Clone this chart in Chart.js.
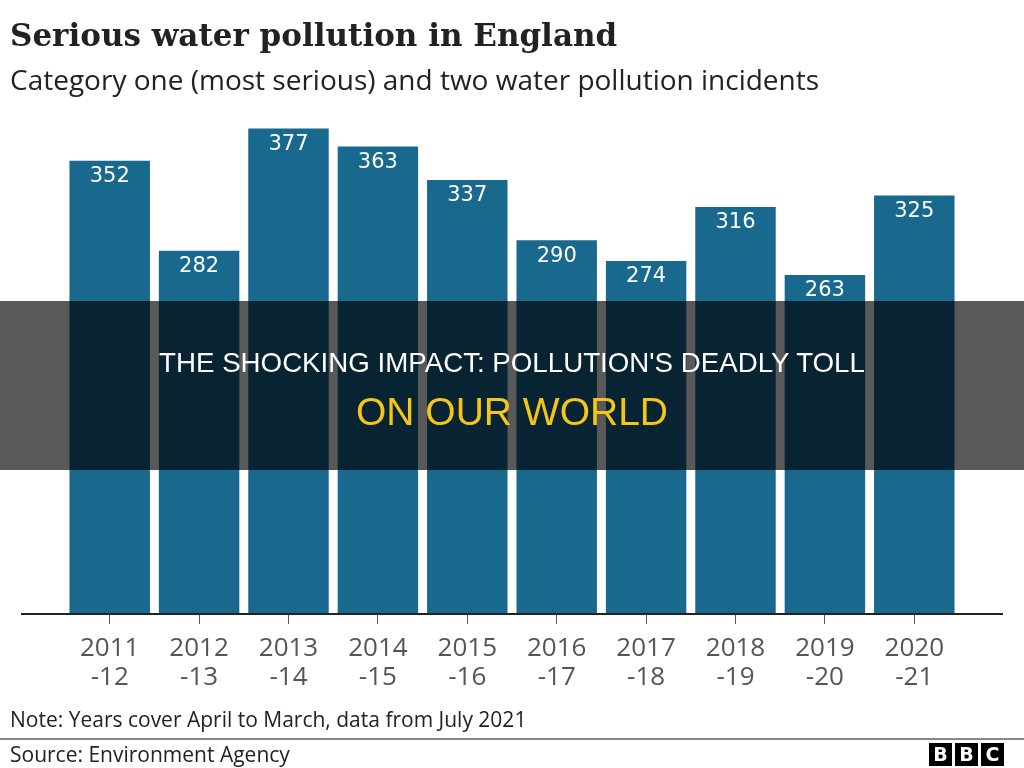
<!DOCTYPE html>
<html>
<head>
<meta charset="utf-8">
<script src="https://cdn.jsdelivr.net/npm/chart.js@4"></script>
<style>
  body { margin: 0; background: #fff; width: 1024px; height: 768px; position: relative; overflow: hidden; font-family: "Open Sans", sans-serif; }
  #chart { position: absolute; left: 0; top: 0; }
  .t { position: absolute; white-space: nowrap; color: #222; }
  #title { left: 10px; top: 17px; font: bold 31px "DejaVu Serif", serif; color: #222; }
  #sub { left: 10px; top: 60px; font: 28px "Open Sans", sans-serif; }
  #note { left: 10px; top: 705px; font: 21px "Open Sans", sans-serif; }
  #rule { position: absolute; left: 0; top: 738px; width: 1024px; height: 2px; background: #888; }
  #source { left: 10px; top: 740px; font: 21px "Open Sans", sans-serif; }
  #bbc { position: absolute; left: 929px; top: 743px; display: flex; gap: 3px; }
  #bbc span { width: 23px; height: 23px; background: #000; color: #fff; font: bold 19px "DejaVu Sans", sans-serif; text-align: center; line-height: 23px; }
  #band { position: absolute; left: 0; top: 301px; width: 1024px; height: 169px; background: rgba(0,0,0,0.65); }
  #band div { position: absolute; width: 1024px; text-align: center; white-space: nowrap; font-family: "Liberation Sans", sans-serif; line-height: 1; }
  #l1 { top: 48px; font-size: 27.7px; color: #fff; }
  #l2 { top: 91px; font-size: 39px; color: #f5c518; }
</style>
</head>
<body>
<canvas id="chart" width="1024" height="768"></canvas>
<div class="t" id="title">Serious water pollution in England</div>
<div class="t" id="sub">Category one (most serious) and two water pollution incidents</div>
<div class="t" id="note">Note: Years cover April to March, data from July 2021</div>
<div id="rule"></div>
<div class="t" id="source">Source: Environment Agency</div>
<div id="bbc"><span>B</span><span>B</span><span>C</span></div>
<div id="band">
  <div id="l1">THE SHOCKING IMPACT: POLLUTION'S DEADLY TOLL</div>
  <div id="l2">ON OUR WORLD</div>
</div>
<script>
const years = [
  ["2011", "-12"], ["2012", "-13"], ["2013", "-14"], ["2014", "-15"], ["2015", "-16"],
  ["2016", "-17"], ["2017", "-18"], ["2018", "-19"], ["2019", "-20"], ["2020", "-21"],
];
const incidents = [352, 282, 377, 363, 337, 290, 274, 316, 263, 325];

// value labels inside bars + baseline across the page
const barLabels = {
  id: "barLabels",
  afterDatasetsDraw(chart) {
    const ctx = chart.ctx;
    const meta = chart.getDatasetMeta(0);
    ctx.save();
    ctx.fillStyle = "#fff";
    ctx.font = "21px 'DejaVu Sans', sans-serif";
    ctx.textAlign = "center";
    ctx.textBaseline = "middle";
    meta.data.forEach((bar, i) => {
      ctx.fillText(incidents[i], bar.x, bar.y + 16);
    });
    const y0 = chart.scales.y.getPixelForValue(0);
    ctx.strokeStyle = "#222";
    ctx.lineWidth = 2;
    ctx.beginPath();
    ctx.moveTo(21, y0 + 1);
    ctx.lineTo(1003, y0 + 1);
    ctx.stroke();
    ctx.restore();
  },
};

const ctx = document.getElementById("chart").getContext("2d");
const chart = new Chart(ctx, {
  type: "bar",
  data: {
    labels: years,
    datasets: [
      {
        data: incidents,
        backgroundColor: "#19698f",
        barPercentage: 0.9,
        categoryPercentage: 1,
      },
    ],
  },
  options: {
    responsive: false,
    animation: false,
    layout: { padding: { left: 65, right: 65, top: 99, bottom: 75 } },
    plugins: { legend: { display: false }, tooltip: { enabled: false } },
    scales: {
      y: { display: false, min: 0, max: 400 },
      x: {
        afterFit: (s) => { s.height = 80; },
        border: { display: false },
        grid: { offset: false, drawOnChartArea: false, drawTicks: true, tickLength: 11, color: "#555" },
        ticks: { color: "#555", padding: 11, font: { family: "Open Sans", size: 26, lineHeight: 1.08 } },
      },
    },
  },
  plugins: [barLabels],
});
</script>
</body>
</html>
